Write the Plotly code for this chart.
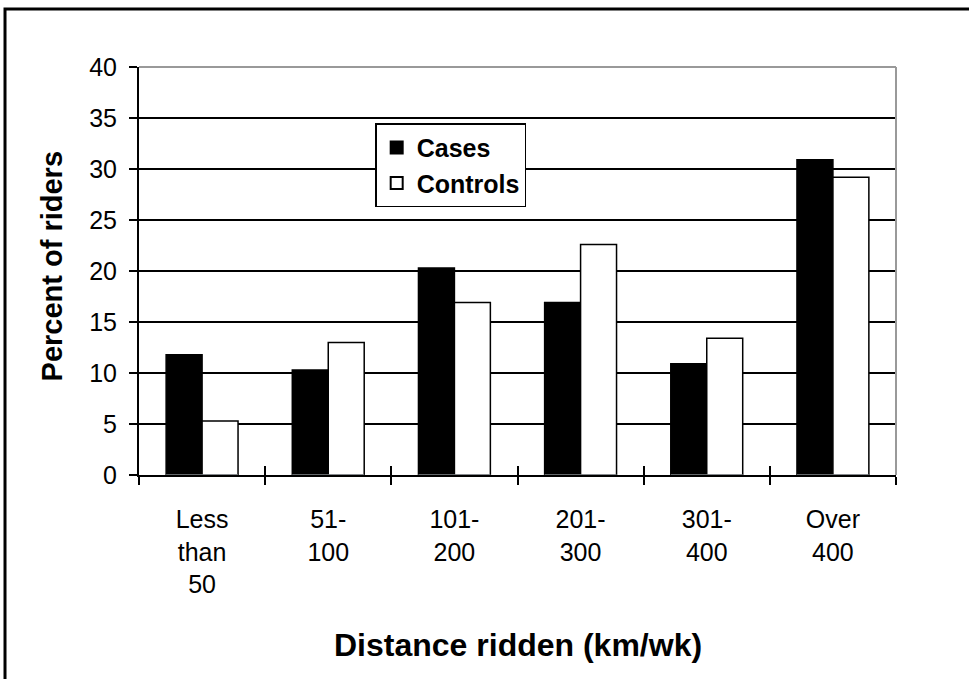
import plotly.graph_objects as go

categories = ["Less<br>than<br>50", "51-<br>100", "101-<br>200", "201-<br>300", "301-<br>400", "Over<br>400"]
cases = [11.8, 10.3, 20.3, 16.9, 10.9, 30.9]
controls = [5.3, 13.0, 16.9, 22.6, 13.4, 29.2]
y_ticks = [0, 5, 10, 15, 20, 25, 30, 35, 40]

FONT = "Arial, Liberation Sans, sans-serif"

fig = go.Figure()
fig.add_trace(go.Bar(name="<b>Cases</b>", x=categories, y=cases,
                     marker=dict(color="black", line=dict(color="black", width=1.5))))
fig.add_trace(go.Bar(name="<b>Controls</b>", x=categories, y=controls,
                     marker=dict(color="white", line=dict(color="black", width=1.5))))
# invisible trace to drive an overlay axis for the inside half of the x ticks
fig.add_trace(go.Bar(x=categories, y=[0]*len(categories), xaxis="x2",
                     showlegend=False, hoverinfo="skip", marker=dict(color="rgba(0,0,0,0)")))

fig.update_layout(
    width=969, height=679,
    margin=dict(l=139, r=73, t=67, b=204),
    paper_bgcolor="white", plot_bgcolor="white",
    barmode="group", bargap=0.43, bargroupgap=0,
    font=dict(family=FONT, color="black"),
    showlegend=True,
    legend=dict(x=0.312, y=0.862, xanchor="left", yanchor="top",
                bgcolor="white", bordercolor="black", borderwidth=1.5,
                font=dict(size=25, family=FONT, color="black"),
                itemsizing="constant", tracegroupgap=0),
    xaxis=dict(type="category", showline=True, linecolor="black", linewidth=2,
               ticks="outside", tickson="boundaries", ticklen=8, tickwidth=1.5,
               tickcolor="black", showgrid=False,
               tickfont=dict(size=25, family=FONT, color="black"),
               ticklabelstandoff=21),
    xaxis2=dict(type="category", overlaying="x", matches="x", side="bottom",
                ticks="inside", tickson="boundaries", ticklen=9, tickwidth=1.5,
                tickcolor="black", showticklabels=False, showgrid=False, showline=False),
    yaxis=dict(range=[0, 40], tickvals=y_ticks, showline=True, linecolor="black",
               linewidth=2, ticks="outside", ticklen=8, tickwidth=1.5, tickcolor="black",
               showgrid=True, gridcolor="black", gridwidth=1.5, zeroline=False,
               tickfont=dict(size=25, family=FONT, color="black"),
               ticklabelstandoff=7),
    shapes=[
        dict(type="line", xref="paper", yref="paper", x0=0, x1=1, y0=1, y1=1,
             line=dict(color="#999999", width=2), layer="above"),
        dict(type="line", xref="paper", yref="paper", x0=1, x1=1, y0=0, y1=1,
             line=dict(color="#999999", width=2), layer="above"),
        dict(type="rect", xref="paper", yref="paper", x0=-0.177, x1=1.6, y0=-0.9, y1=1.142,
             line=dict(color="black", width=3), layer="above"),
    ],
    annotations=[
        dict(text="<b>Distance ridden (km/wk)</b>", xref="paper", yref="paper",
             x=0.5, y=-0.417, xanchor="center", yanchor="middle", showarrow=False,
             font=dict(size=32, family=FONT, color="black")),
        dict(text="<b>Percent of riders</b>", xref="paper", yref="paper",
             x=-0.115, y=0.511, xanchor="center", yanchor="middle", showarrow=False,
             textangle=-90, font=dict(size=29, family=FONT, color="black")),
    ],
)

fig.write_html("out.html")
